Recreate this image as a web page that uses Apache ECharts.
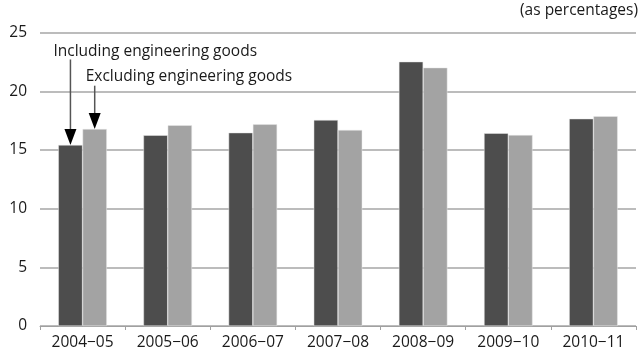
<!DOCTYPE html>
<html><head><meta charset="utf-8">
<script src="https://cdn.jsdelivr.net/npm/echarts@6/dist/echarts.min.js"></script>
<style>html,body{margin:0;padding:0;background:#fff}#c{width:640px;height:351px}</style>
</head><body><div id="c"></div>
<script>
const categories = ['2004−05','2005−06','2006−07','2007−08','2008−09','2009−10','2010−11'];
const including = [15.43, 16.26, 16.48, 17.56, 22.53, 16.43, 17.67];
const excluding = [16.79, 17.11, 17.19, 16.71, 22.02, 16.28, 17.88];
const yTicks = [0, 5, 10, 15, 20, 25];
const unitNote = '(as percentages)';
const labelIncl = 'Including engineering goods';
const labelExcl = 'Excluding engineering goods';

const FONT = 'Open Sans';
const FS = 15.5;
const chart = echarts.init(document.getElementById('c'), null, {renderer: 'canvas'});
chart.setOption({
  animation: false,
  textStyle: {fontFamily: FONT},
  grid: {left: 40, right: 4, top: 32.7, bottom: 25},
  xAxis: {
    type: 'category', data: categories,
    axisLine: {lineStyle: {color: '#a0a0a0', width: 1}},
    axisTick: {show: true, length: 4, lineStyle: {color: '#a0a0a0'}},
    axisLabel: {color: '#1a1a1a', fontSize: FS, margin: 9, fontFamily: FONT}
  },
  yAxis: {
    type: 'value', min: yTicks[0], max: yTicks[yTicks.length-1], interval: 5,
    axisLine: {show: false}, axisTick: {show: false},
    splitLine: {lineStyle: {color: '#a6a6a6', width: 1.5}},
    axisLabel: {color: '#1a1a1a', fontSize: FS, margin: 13, fontFamily: FONT}
  },
  series: [
    {type: 'bar', name: labelIncl, data: including, barGap: '0%', barCategoryGap: '43%',
     itemStyle: {color: '#4d4d4d', borderColor: '#e8e8e8', borderWidth: 0.5}},
    {type: 'bar', name: labelExcl, data: excluding, barGap: '0%', barCategoryGap: '43%',
     itemStyle: {color: '#a3a3a3', borderColor: '#e8e8e8', borderWidth: 0.5}}
  ]
});

function barTop(si, i) {
  const l = chart.getModel().getSeriesByIndex(si).getData().getItemLayout(i);
  return {x: l.x + l.width / 2, y: Math.min(l.y, l.y + l.height)};
}
const b1 = barTop(0, 0), b2 = barTop(1, 0);
const yIncl = chart.convertToPixel({yAxisIndex: 0}, 23.4);
const yExcl = chart.convertToPixel({yAxisIndex: 0}, 21.25);
function arrow(x, yStart, yEnd) {
  const hh = 16, hw = 6;
  return [
    {type: 'line', shape: {x1: x, y1: yStart, x2: x, y2: yEnd - hh + 1}, style: {stroke: '#555', lineWidth: 1.5}},
    {type: 'polygon', shape: {points: [[x - hw, yEnd - hh], [x + hw, yEnd - hh], [x, yEnd]]}, style: {fill: '#000'}}
  ];
}
const font = FS + 'px "' + FONT + '"';
chart.setOption({
  graphic: [
    {type: 'text', right: 2, top: 3, style: {text: unitNote, font: font, fill: '#1a1a1a'}},
    {type: 'text', x: b1.x - 17, y: yIncl, style: {text: labelIncl, font: font, fill: '#1a1a1a', verticalAlign: 'middle'}},
    {type: 'text', x: b2.x - 9, y: yExcl, style: {text: labelExcl, font: font, fill: '#1a1a1a', verticalAlign: 'middle'}},
    ...arrow(b1.x, yIncl + 8, b1.y),
    ...arrow(b2.x, yExcl + 9, b2.y)
  ]
});
</script></body></html>
